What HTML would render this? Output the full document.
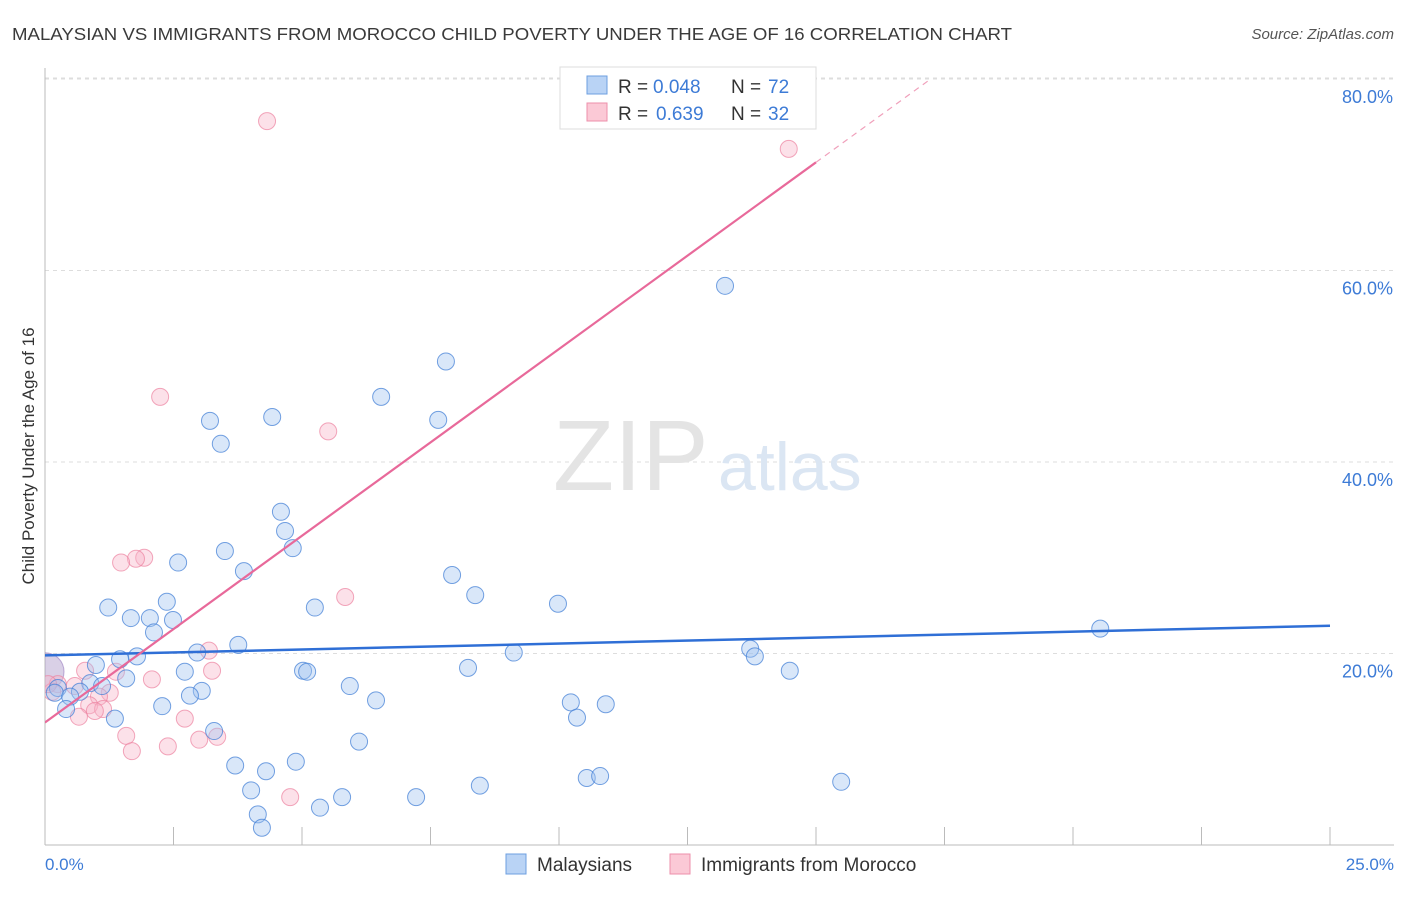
<!DOCTYPE html>
<html><head><meta charset="utf-8"><style>
body{margin:0;background:#fff;font-family:"Liberation Sans",sans-serif}
svg text{font-family:"Liberation Sans",sans-serif}
</style></head><body>
<svg id="chart" width="1406" height="892" xmlns="http://www.w3.org/2000/svg">
<defs><clipPath id="plot"><rect x="45" y="60" width="1361" height="785"/></clipPath></defs>
<text x="12" y="40" font-size="17.5" fill="#3a3a3a" textLength="1000" lengthAdjust="spacingAndGlyphs">MALAYSIAN VS IMMIGRANTS FROM MOROCCO CHILD POVERTY UNDER THE AGE OF 16 CORRELATION CHART</text>
<text x="1394" y="39" font-size="15" fill="#555" font-style="italic" text-anchor="end">Source: ZipAtlas.com</text>
<g id="grid"></g>
<text x="553" y="490" font-size="100" fill="#e4e4e4" font-family="Liberation Serif">ZIP</text>
<text x="718" y="490" font-size="68" fill="#dbe6f3">atlas</text>
<line x1="45" y1="845" x2="1394" y2="845" stroke="#bbb"/>
<line x1="45" y1="68" x2="45" y2="845" stroke="#bbb"/>
<g id="marks" clip-path="url(#plot)"></g>
<text transform="translate(34,456) rotate(-90)" font-size="17" fill="#333" text-anchor="middle">Child Poverty Under the Age of 16</text>
<text x="45" y="870" font-size="17" fill="#3d7bd6">0.0%</text>
<text x="1394" y="870" font-size="17" fill="#3d7bd6" text-anchor="end">25.0%</text>
<g>
<rect x="560" y="67" width="256" height="62" fill="#fff" stroke="#ddd"/>
<rect x="587" y="76" width="20" height="18" fill="#b9d3f5" stroke="#6d9fe0"/>
<rect x="587" y="103" width="20" height="18" fill="#fbc9d6" stroke="#ec8fab"/>
<text x="618" y="93" font-size="19" fill="#333">R =</text>
<text x="653" y="93" font-size="19" fill="#3d7bd6">0.048</text>
<text x="731" y="93" font-size="19" fill="#333">N =</text>
<text x="768" y="93" font-size="19" fill="#3d7bd6">72</text>
<text x="618" y="120" font-size="19" fill="#333">R =</text>
<text x="656" y="120" font-size="19" fill="#3d7bd6">0.639</text>
<text x="731" y="120" font-size="19" fill="#333">N =</text>
<text x="768" y="120" font-size="19" fill="#3d7bd6">32</text>
</g>
<g>
<rect x="506" y="854" width="20" height="20" fill="#b9d3f5" stroke="#6d9fe0"/>
<text x="537" y="871" font-size="19" fill="#333">Malaysians</text>
<rect x="670" y="854" width="20" height="20" fill="#fbc9d6" stroke="#ec8fab"/>
<text x="701" y="871" font-size="19" fill="#333">Immigrants from Morocco</text>
</g>
</svg>
<script>
const blueX=[13.23,7.80,6.54,7.65,3.21,4.42,3.42,4.59,4.67,3.50,4.82,2.59,3.87,7.92,8.37,5.25,9.98,1.23,2.37,1.67,2.04,2.49,2.12,20.53,3.76,1.79,1.46,2.96,9.12,13.72,13.81,14.49,0.99,2.72,5.02,5.10,8.23,1.58,0.88,1.11,5.93,0.68,0.25,0.19,0.49,3.05,2.82,6.44,10.23,10.91,2.28,0.41,1.36,10.35,3.29,6.11,3.70,4.88,4.30,10.54,10.80,15.49,8.46,4.01,5.78,7.22,5.35,4.14,4.22];
const blueY=[58.4,50.5,46.8,44.4,44.3,44.7,41.9,34.8,32.8,30.7,31.0,29.5,28.6,28.2,26.1,24.8,25.2,24.8,25.4,23.7,23.7,23.5,22.2,22.6,20.9,19.7,19.4,20.1,20.1,20.5,19.7,18.2,18.8,18.1,18.2,18.1,18.5,17.4,16.9,16.6,16.6,16.0,16.4,15.9,15.5,16.1,15.6,15.1,14.9,14.7,14.5,14.2,13.2,13.3,11.9,10.8,8.3,8.7,7.7,7.0,7.2,6.6,6.2,5.7,5.0,5.0,3.9,3.2,1.8];
const pinkX=[4.32,14.47,2.24,5.51,5.84,1.93,1.77,1.48,3.19,3.25,0.78,1.38,2.08,0.25,0.58,0.14,1.26,1.05,0.86,1.13,0.97,0.66,2.72,3.35,1.58,3.00,2.39,1.69,4.77,0.06];
const pinkY=[75.6,72.7,46.8,43.2,25.9,30.0,29.9,29.5,20.3,18.2,18.2,18.1,17.3,16.8,16.6,16.0,15.9,15.5,14.6,14.2,14.0,13.4,13.2,11.3,11.4,11.0,10.3,9.8,5.0,16.8];
const blueTrend=[19.8,22.9];
const pinkTrend=[12.8,71.3];
const yTicks=[20,40,60,80];
const yTickLabels=["20.0%","40.0%","60.0%","80.0%"];
const xTicks=[0,2.5,5,7.5,10,12.5,15,17.5,20,22.5,25];
const sx=v=>45+v*51.4, sy=v=>845-v*9.575;
const NS="http://www.w3.org/2000/svg";
const grid=document.getElementById('grid'), marks=document.getElementById('marks');
function mk(tag,attrs,parent){const e=document.createElementNS(NS,tag);for(const k in attrs)e.setAttribute(k,attrs[k]);parent.appendChild(e);return e;}
yTicks.forEach((t,i)=>{
 const l=mk('line',{x1:45,x2:1394,y1:sy(t),y2:sy(t),stroke:'#ddd','stroke-dasharray':'4,4'},grid);
 
 
 const tx=mk('text',{x:1393,y:sy(t)+24,'font-size':18,fill:'#3d7bd6','text-anchor':'end'},grid);
 tx.textContent=yTickLabels[i];
 
 
});
mk('line',{x1:45,x2:1394,y1:78,y2:78,stroke:'#ddd','stroke-dasharray':'4,4'},grid);
xTicks.forEach(t=>{
 const l=mk('line',{x1:sx(t),x2:sx(t),y1:827,y2:845,stroke:'#bbb'},grid);
 
 
});
const big=mk('circle',{cx:45,cy:sy(18.1),r:19,fill:'rgba(170,150,200,0.45)',stroke:'rgba(150,120,190,0.6)'},marks);


pinkX.forEach((x,i)=>{
 const c=mk('circle',{cx:sx(x),cy:sy(pinkY[i]),r:8.5,fill:'rgba(248,180,200,0.4)',stroke:'rgba(236,130,160,0.7)','stroke-width':1},marks);
 
 
});
blueX.forEach((x,i)=>{
 const c=mk('circle',{cx:sx(x),cy:sy(blueY[i]),r:8.5,fill:'rgba(160,195,240,0.4)',stroke:'rgba(70,130,215,0.75)','stroke-width':1},marks);
 
 
});
const bl=mk('line',{x1:sx(0),y1:sy(blueTrend[0]),x2:sx(25),y2:sy(blueTrend[1]),stroke:'#2f6fd6','stroke-width':2.5},marks);


const slope=(pinkTrend[1]-pinkTrend[0])/15;
const pl=mk('line',{x1:sx(0),y1:sy(pinkTrend[0]),x2:sx(15),y2:sy(pinkTrend[1]),stroke:'#e8699a','stroke-width':2.2},marks);


const pd=mk('line',{x1:sx(15),y1:sy(pinkTrend[1]),x2:sx(17.2),y2:sy(pinkTrend[1]+slope*2.2),stroke:'#f0a0bb','stroke-width':1.2,'stroke-dasharray':'6,5'},marks);


</script>
</body></html>
